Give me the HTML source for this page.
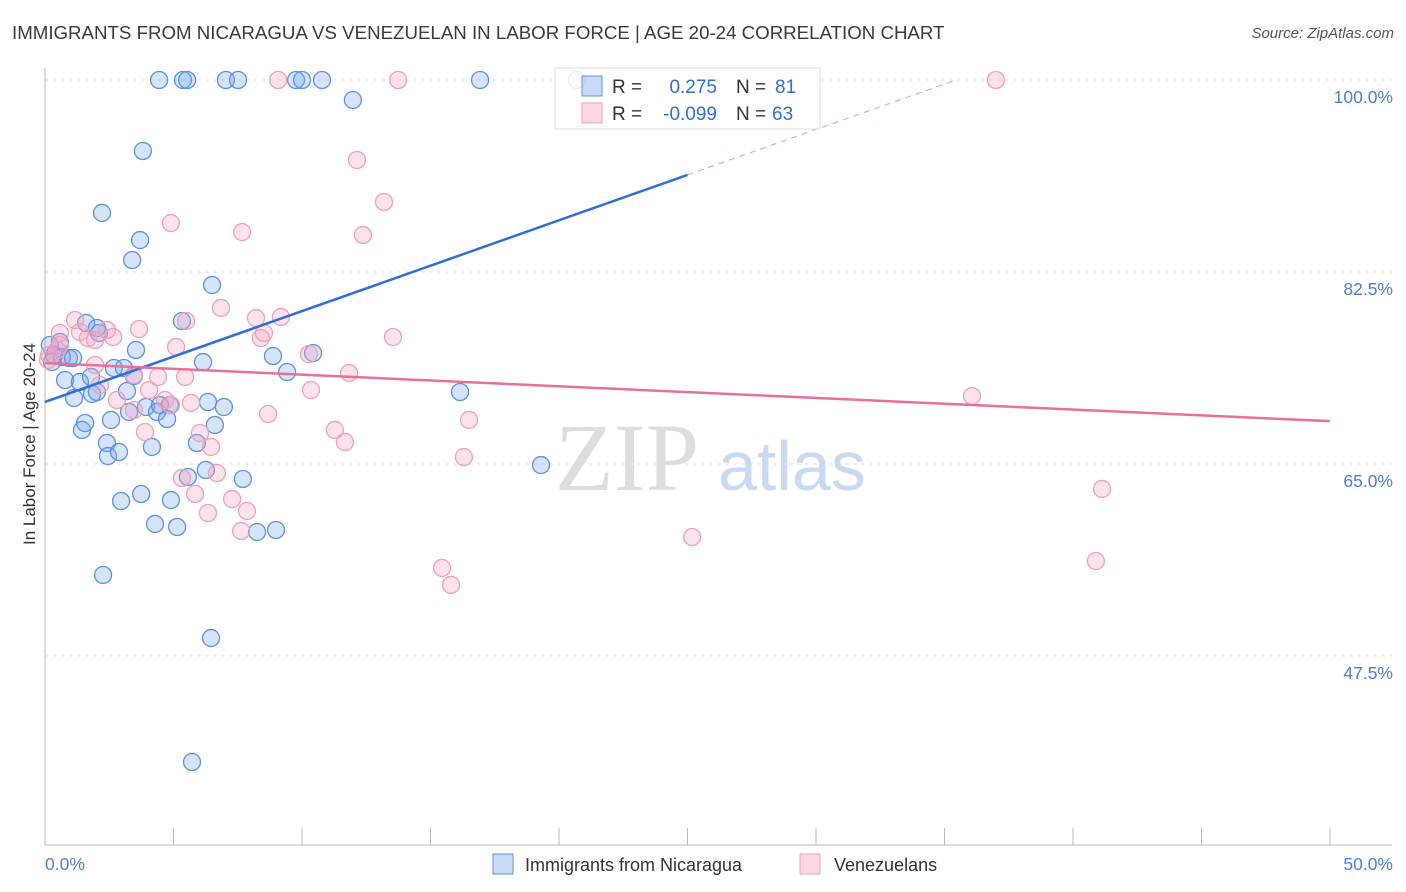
<!DOCTYPE html>
<html><head><meta charset="utf-8"><style>
body{margin:0;background:#fff;font-family:"Liberation Sans",sans-serif}
#wrap{position:relative;width:1406px;height:892px;overflow:hidden}
.t{position:absolute;white-space:nowrap}
</style></head><body>
<div id="wrap">
<div class="t" style="left:12px;top:22px;font-size:18.7px;color:#3a3a3a">IMMIGRANTS FROM NICARAGUA VS VENEZUELAN IN LABOR FORCE | AGE 20-24 CORRELATION CHART</div>
<div class="t" style="right:12px;top:25px;font-size:15px;color:#555;font-style:italic">Source: ZipAtlas.com</div>
<div class="t" style="left:-60px;top:445px;font-size:17px;color:#333;transform:rotate(-90deg);transform-origin:center;width:180px;text-align:center">In Labor Force | Age 20-24</div>
<svg id="chart" width="1406" height="892" style="position:absolute;left:0;top:0"></svg>
</div>
<script>
const xTicks=[0,5,10,15,20,25,30,35,40,45,50];
const yTicks=[47.5,65,82.5,100];
const yTickLabels=["47.5%","65.0%","82.5%","100.0%"];
const blueX=[4.44,5.37,5.53,7.04,7.51,9.77,10.0,10.78,16.93,20.7,11.98,3.81,2.22,3.70,3.39,6.50,5.33,1.60,2.02,2.10,0.19,0.58,0.35,0.66,0.93,1.09,0.27,3.54,6.15,8.87,10.43,0.78,1.36,1.79,2.68,3.07,3.46,1.83,1.13,3.19,9.42,16.15,3.93,4.36,4.47,4.86,4.75,6.34,6.96,1.44,1.56,2.57,3.27,6.61,4.16,5.91,2.41,2.45,2.88,6.26,7.70,5.56,19.30,3.74,4.90,2.96,4.28,5.14,8.25,8.99,2.26,6.46,5.72,2.02];
const blueY=[100,100,100,100,100,100,100,100,100,100,98.18,93.53,87.88,85.41,83.59,81.31,78.03,77.85,77.39,76.94,75.84,76.12,74.93,74.75,74.66,74.66,74.29,75.39,74.29,74.84,75.11,72.65,72.47,72.93,73.75,73.75,73.02,71.38,71.01,71.65,73.38,71.56,70.19,69.74,70.37,70.37,69.10,70.65,70.19,68.10,68.73,69.01,69.74,68.55,66.55,66.91,66.91,65.72,66.09,64.45,63.63,63.81,64.90,62.26,61.71,61.62,59.53,59.25,58.80,58.98,54.88,49.13,37.83,71.56];
const pinkX=[13.74,9.07,37.0,12.14,13.19,4.90,7.67,12.37,6.85,1.17,5.49,8.21,9.18,8.52,8.40,0.58,3.66,2.41,2.65,13.54,1.36,1.67,1.95,5.10,10.27,0.16,1.95,3.46,4.40,5.45,11.83,4.05,4.90,5.68,2.80,10.35,8.68,16.50,11.28,11.67,3.89,6.03,6.46,16.30,6.69,5.33,5.84,7.28,6.34,7.86,7.63,25.18,36.07,41.13,40.89,15.45,15.80,0.12,0.47,2.14,3.46,4.67,0.58];
const pinkY=[100,100,100,92.71,88.88,86.96,86.14,85.87,79.22,78.12,78.03,78.30,78.40,76.94,76.48,76.94,77.30,77.21,76.57,76.57,77.03,76.48,76.30,75.66,75.02,74.93,74.02,73.11,72.93,72.93,73.29,71.74,70.37,70.56,70.83,71.74,69.55,69.01,68.10,67.00,67.91,67.82,66.55,65.63,64.17,63.72,62.26,61.80,60.53,60.71,58.89,58.34,71.19,62.72,56.15,55.52,53.97,74.48,75.39,72.20,69.92,70.83,75.84];
const blueTrend=[70.65,0.828];
const pinkTrend=[74.2,-0.106];

const NS="http://www.w3.org/2000/svg";
const svg=document.getElementById('chart');
const X=v=>45+v*25.7;
const Y=v=>80+(100-v)*10.97;
function mk(tag,a,parent){const e=document.createElementNS(NS,tag);for(const k in a)e.setAttribute(k,a[k]);(parent||svg).appendChild(e);return e;}
yTicks.forEach((t,i)=>{
 const g=mk('line',{x1:45,x2:1392,y1:Y(t),y2:Y(t),stroke:'#ddd','stroke-dasharray':'4,4'});
 
 
 const tx=mk('text',{x:1393,y:Y(t)+23,'text-anchor':'end','font-size':17.5,fill:'#4a7fd6','font-family':'Liberation Sans, sans-serif'});
 tx.textContent=yTickLabels[i];
 
 
});
const ax=mk('line',{x1:45,x2:1392,y1:845,y2:845,stroke:'#bbb'});


const ay=mk('line',{x1:45,x2:45,y1:68,y2:845,stroke:'#bbb'});


xTicks.forEach(t=>{
 const l=mk('line',{x1:X(t),x2:X(t),y1:828,y2:845,stroke:'#bbb'});
 
 
});
const xl0=mk('text',{x:45,y:870,'font-size':17.5,fill:'#4a7fd6','font-family':'Liberation Sans, sans-serif'});xl0.textContent=xTicks[0].toFixed(1)+'%';


const xl1=mk('text',{x:1393,y:870,'text-anchor':'end','font-size':17.5,fill:'#4a7fd6','font-family':'Liberation Sans, sans-serif'});xl1.textContent=xTicks[xTicks.length-1].toFixed(1)+'%';


const wm=mk('text',{x:555,y:490,'font-size':96,fill:'#ddd','font-family':'Liberation Serif, serif'});wm.textContent='ZIP';


const wm2=mk('text',{x:718,y:490,'font-size':70,fill:'#c8daf2','font-family':'Liberation Sans, sans-serif'});wm2.textContent='atlas';


blueX.forEach((x,i)=>{
 const c=mk('circle',{cx:X(x),cy:Y(blueY[i]),r:8.5,fill:'rgba(120,165,235,0.3)',stroke:'#5b93e0','stroke-width':1.3});
 
 
});
pinkX.forEach((x,i)=>{
 const c=mk('circle',{cx:X(x),cy:Y(pinkY[i]),r:8.5,fill:'rgba(245,160,185,0.3)',stroke:'#f0a0b8','stroke-width':1.3});
 
 
});
const bEnd=25, bDashEnd=(100-blueTrend[0])/blueTrend[1];
const bl=mk('line',{x1:X(0),y1:Y(blueTrend[0]),x2:X(bEnd),y2:Y(blueTrend[0]+blueTrend[1]*bEnd),stroke:'#2f6fd6','stroke-width':2.5});


const bd=mk('line',{x1:X(bEnd),y1:Y(blueTrend[0]+blueTrend[1]*bEnd),x2:X(bDashEnd),y2:Y(100),stroke:'#9fbdea','stroke-width':1.1,'stroke-dasharray':'6,5'});


const pl=mk('line',{x1:X(0),y1:Y(pinkTrend[0]),x2:X(50),y2:Y(pinkTrend[0]+pinkTrend[1]*50),stroke:'#e8709a','stroke-width':2.5});


const lg=mk('g',{});


mk('rect',{x:555,y:68,width:265,height:61,fill:'rgba(255,255,255,0.85)',stroke:'#ddd'},lg);
mk('rect',{x:582,y:76,width:20,height:20,fill:'rgba(120,165,235,0.4)',stroke:'#5b93e0'},lg);
mk('rect',{x:582,y:103,width:20,height:20,fill:'rgba(245,160,185,0.4)',stroke:'#f0a0b8'},lg);
function lt(x,y,s,c,anchor){const t=mk('text',{x:x,y:y,'font-size':19,fill:c,'font-family':'Liberation Sans, sans-serif','text-anchor':anchor||'start'},lg);t.textContent=s;return t;}
lt(612,93,'R =','#333');lt(717,93,'0.275','#2f6fd6','end');lt(736,93,'N =','#333');lt(775,93,'81','#2f6fd6');
lt(612,120,'R =','#333');lt(717,120,'-0.099','#2f6fd6','end');lt(736,120,'N =','#333');lt(772,120,'63','#2f6fd6');
const bl1=mk('rect',{x:493,y:854,width:20,height:20,fill:'rgba(120,165,235,0.4)',stroke:'#5b93e0'});


const bt1=mk('text',{x:525,y:871,'font-size':18,fill:'#333','font-family':'Liberation Sans, sans-serif'});bt1.textContent='Immigrants from Nicaragua';


const bl2=mk('rect',{x:800,y:854,width:20,height:20,fill:'rgba(245,160,185,0.4)',stroke:'#f0a0b8'});


const bt2=mk('text',{x:834,y:871,'font-size':18,fill:'#333','font-family':'Liberation Sans, sans-serif'});bt2.textContent='Venezuelans';


</script>
</body></html>
